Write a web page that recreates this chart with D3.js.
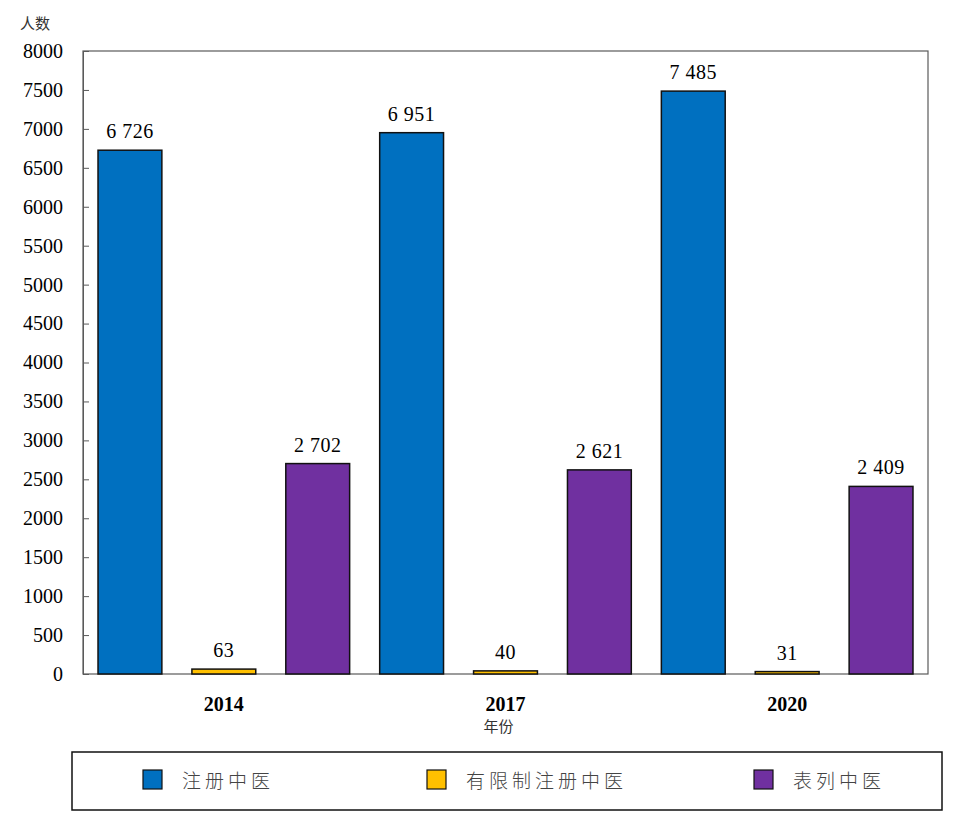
<!DOCTYPE html>
<html>
<head>
<meta charset="utf-8">
<script src="https://cdn.jsdelivr.net/npm/d3@7"></script>
<style>
  body { margin: 0; background: #fff; }
  .num { font-family: "Liberation Serif", "Times New Roman", serif; }
  .cjk { font-family: "Noto Sans CJK SC", sans-serif; }
</style>
</head>
<body>
<svg id="chart"></svg>
<script>
// Data
const years = ["2014", "2017", "2020"];
const seriesNames = ["注册中医", "有限制注册中医", "表列中医"];
const seriesColors = ["#0070C0", "#FFC000", "#7030A0"];
const registered = [6726, 6951, 7485];
const limited = [63, 40, 31];
const listed = [2702, 2621, 2409];
const yTicks = [0, 500, 1000, 1500, 2000, 2500, 3000, 3500, 4000, 4500, 5000, 5500, 6000, 6500, 7000, 7500, 8000];

const W = 977, H = 836;
const margin = { top: 51, right: 49, bottom: 162, left: 83 };
const width = W - margin.left - margin.right;
const height = H - margin.top - margin.bottom;

const svg = d3.select("#chart").attr("width", W).attr("height", H);
const g = svg.append("g").attr("transform", `translate(${margin.left},${margin.top})`);

const series = [registered, limited, listed];
const rows = years.map((y, i) => ({ year: y, values: series.map((s) => s[i]) }));

const x0 = d3.scaleBand().domain(years).range([0, width]).padding(0);
const x1 = d3
  .scaleBand()
  .domain(d3.range(series.length))
  .range([0, x0.bandwidth()])
  .paddingInner(0.32)
  .paddingOuter(0.16);
const y = d3.scaleLinear().domain([0, 8000]).range([height, 0]);

const fmt = (v) => d3.format(",")(v).replace(/,/g, " ");

// Plot frame
g.append("rect")
  .attr("width", width)
  .attr("height", height)
  .attr("fill", "none")
  .attr("stroke", "#5a5a5a")
  .attr("stroke-width", 1.2);

// Y axis with inward ticks
const yAxis = g
  .append("g")
  .call(
    d3
      .axisLeft(y)
      .tickValues(yTicks)
      .tickFormat(d3.format("d"))
      .tickSizeInner(-6)
      .tickSizeOuter(0)
      .tickPadding(20)
  );
yAxis.select(".domain").attr("stroke", "#5a5a5a");
yAxis.selectAll(".tick line").attr("stroke", "#5a5a5a");
yAxis
  .selectAll("text")
  .attr("class", "num")
  .style("font-size", "20px")
  .attr("fill", "#000");

// Bars
const groups = g
  .selectAll(".grp")
  .data(rows)
  .enter()
  .append("g")
  .attr("transform", (d) => `translate(${x0(d.year)},0)`);

groups
  .selectAll("rect")
  .data((d) => d.values.map((v, i) => ({ v, i })))
  .enter()
  .append("rect")
  .attr("x", (d) => x1(d.i))
  .attr("y", (d) => y(d.v))
  .attr("width", x1.bandwidth())
  .attr("height", (d) => height - y(d.v))
  .attr("fill", (d) => seriesColors[d.i])
  .attr("stroke", "#111")
  .attr("stroke-width", 1.5);

groups
  .selectAll(".lbl")
  .data((d) => d.values.map((v, i) => ({ v, i })))
  .enter()
  .append("text")
  .attr("class", "num")
  .attr("x", (d) => x1(d.i) + x1.bandwidth() / 2)
  .attr("y", (d) => y(d.v) - 12)
  .attr("text-anchor", "middle")
  .style("font-size", "20px")
  .style("letter-spacing", "0.5px")
  .text((d) => fmt(d.v));

// X axis labels
const xAxis = g
  .append("g")
  .attr("transform", `translate(0,${height})`)
  .call(d3.axisBottom(x0).tickSize(0).tickPadding(23));
xAxis.select(".domain").remove();
xAxis
  .selectAll("text")
  .attr("class", "num")
  .style("font-size", "20px")
  .style("font-weight", "bold")
  .attr("fill", "#000");

g.append("text")
  .attr("class", "cjk")
  .attr("x", x0("2017") + x0.bandwidth() / 2 - 7)
  .attr("y", height + 58)
  .attr("text-anchor", "middle")
  .style("font-size", "15px")
  .attr("fill", "#333")
  .text("年份");

// Y axis title
svg
  .append("text")
  .attr("class", "cjk")
  .attr("x", 20)
  .attr("y", 29)
  .style("font-size", "15px")
  .attr("fill", "#333")
  .text("人数");

// Legend
const legend = svg.append("g").attr("transform", "translate(72,752)");
legend
  .append("rect")
  .attr("width", 870)
  .attr("height", 58)
  .attr("fill", "#fff")
  .attr("stroke", "#111")
  .attr("stroke-width", 1.5);

const legendX = [71, 355, 682];
seriesNames.forEach((name, i) => {
  legend
    .append("rect")
    .attr("x", legendX[i])
    .attr("y", 18)
    .attr("width", 19)
    .attr("height", 19)
    .attr("fill", seriesColors[i])
    .attr("stroke", "#111")
    .attr("stroke-width", 1.2);
  legend
    .append("text")
    .attr("class", "cjk")
    .attr("x", legendX[i] + 39)
    .attr("y", 36)
    .style("font-size", "19px")
    .style("font-weight", "300")
    .style("letter-spacing", "4px")
    .attr("fill", "#444")
    .text(name);
});
</script>
</body>
</html>
